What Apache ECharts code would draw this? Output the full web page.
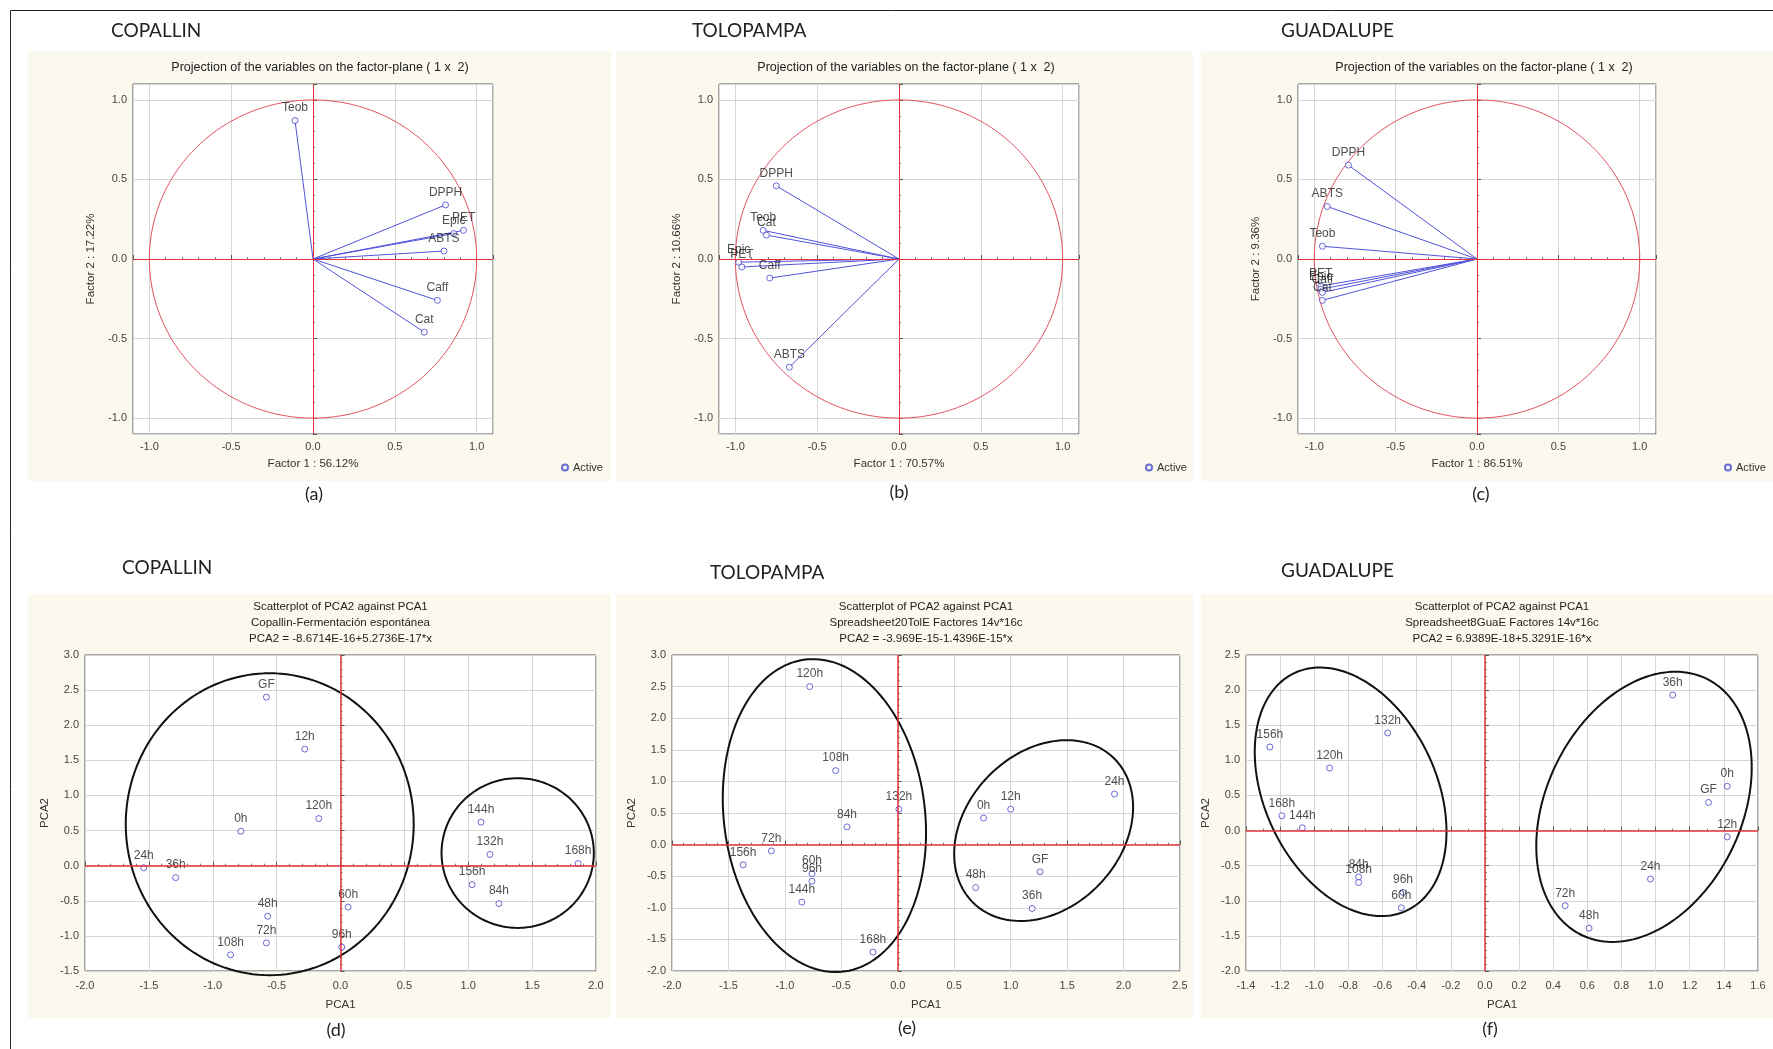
<!DOCTYPE html>
<html>
<head>
<meta charset="utf-8">
<script src="https://cdn.jsdelivr.net/npm/echarts/dist/echarts.min.js"></script>
<style>
html, body { margin: 0; padding: 0; background: #fff; }
#main { width: 1773px; height: 1049px; }
</style>
</head>
<body>
<div id="main"></div>
<script>
// ---------- factor loadings (top row) ----------
var varsA = ['Teob', 'DPPH', 'PET', 'Epic', 'ABTS', 'Caff', 'Cat'];
var fac1A = [-0.11, 0.81, 0.92, 0.86, 0.80, 0.76, 0.68];
var fac2A = [0.87, 0.34, 0.18, 0.16, 0.05, -0.26, -0.46];

var varsB = ['DPPH', 'Teob', 'Cat', 'Epic', 'PET', 'Caff', 'ABTS'];
var fac1B = [-0.75, -0.83, -0.81, -0.98, -0.96, -0.79, -0.67];
var fac2B = [0.46, 0.18, 0.15, -0.02, -0.05, -0.12, -0.68];

var varsC = ['DPPH', 'ABTS', 'Teob', 'PET', 'Epic', 'Caff', 'Cat'];
var fac1C = [-0.79, -0.92, -0.95, -0.96, -0.96, -0.95, -0.95];
var fac2C = [0.59, 0.33, 0.08, -0.17, -0.19, -0.21, -0.26];

var pctF1 = ['56.12%', '70.57%', '86.51%'];
var pctF2 = ['17.22%', '10.66%', '9.36%'];

// ---------- PCA scores (bottom row) ----------
var samples = ['0h', '12h', '24h', '36h', '48h', '60h', '72h', '84h', '96h', '108h', '120h', '132h', '144h', '156h', '168h', 'GF'];
var pca1D = [-0.78, -0.28, -1.54, -1.29, -0.57, 0.06, -0.58, 1.24, 0.01, -0.86, -0.17, 1.17, 1.10, 1.03, 1.86, -0.58];
var pca2D = [0.49, 1.66, -0.03, -0.17, -0.72, -0.59, -1.10, -0.54, -1.16, -1.27, 0.67, 0.16, 0.62, -0.27, 0.03, 2.40];
var pca1E = [0.76, 1.00, 1.92, 1.19, 0.69, -0.76, -1.12, -0.45, -0.76, -0.55, -0.78, 0.01, -0.85, -1.37, -0.22, 1.26];
var pca2E = [0.42, 0.56, 0.80, -1.01, -0.68, -0.46, -0.10, 0.28, -0.58, 1.17, 2.50, 0.56, -0.91, -0.32, -1.70, -0.43];
var pca1F = [1.42, 1.42, 0.97, 1.10, 0.61, -0.49, 0.47, -0.74, -0.48, -0.74, -0.91, -0.57, -1.07, -1.26, -1.19, 1.31];
var pca2F = [0.63, -0.09, -0.69, 1.93, -1.39, -1.10, -1.07, -0.66, -0.88, -0.74, 0.89, 1.39, 0.04, 1.19, 0.21, 0.40];

// group ellipses drawn by hand on the figure: centre, two semi-axis vectors
var ellD = [[[-0.554, 0.59], [1.127, 0], [0, 2.15]], [[1.387, 0.18], [0.596, 0], [0, 1.066]]];
var ellE = [[[-0.65, 0.459], [-0.149, 2.472], [0.888, 0.137]], [[1.292, 0.222], [0.513, 1.292], [-0.604, 0.614]]];
var ellF = [[[-0.787, 0.552], [-0.2935, 1.726], [-0.479, -0.393]], [[0.932, 0.338], [0.321, 1.870], [-0.5435, 0.452]]];

var subTitles = [
  ['Scatterplot of PCA2 against PCA1', 'Copallin-Fermentación espontánea', 'PCA2 = -8.6714E-16+5.2736E-17*x'],
  ['Scatterplot of PCA2 against PCA1', 'Spreadsheet20TolE Factores 14v*16c', 'PCA2 = -3.969E-15-1.4396E-15*x'],
  ['Scatterplot of PCA2 against PCA1', 'Spreadsheet8GuaE Factores 14v*16c', 'PCA2 = 6.9389E-18+5.3291E-16*x']
];

var FONT = '"Liberation Sans", Arial, sans-serif';
var BLUE = '#5252dc';
var RED = '#e2303c';

function circle() {
  var pts = [];
  for (var k = 0; k <= 240; k++) {
    var t = k / 240 * 2 * Math.PI;
    pts.push([Math.cos(t), Math.sin(t)]);
  }
  return pts;
}
function ellipse(e) {
  var pts = [];
  for (var k = 0; k <= 160; k++) {
    var t = k / 160 * 2 * Math.PI;
    pts.push([e[0][0] + e[1][0] * Math.cos(t) + e[2][0] * Math.sin(t),
              e[0][1] + e[1][1] * Math.cos(t) + e[2][1] * Math.sin(t)]);
  }
  return pts;
}

var grids = [
  { left: 133, top: 84, width: 360, height: 350 },
  { left: 719, top: 84, width: 360, height: 350 },
  { left: 1298, top: 84, width: 358, height: 350 },
  { left: 85, top: 655, width: 511, height: 316 },
  { left: 672, top: 655, width: 508, height: 316 },
  { left: 1246, top: 655, width: 512, height: 316 }
];
grids.forEach(function (g) {
  g.show = true; g.backgroundColor = '#fff'; g.borderColor = '#555'; g.borderWidth = 1;
});

function axis(i, dim, o) {
  var a = {
    type: 'value', gridIndex: i, min: o.min, max: o.max,
    name: o.name, nameLocation: 'middle', nameGap: o.nameGap,
    nameRotate: dim === 'y' ? 90 : 0,
    nameTextStyle: { fontFamily: FONT, fontSize: 11.5, color: '#333' },
    axisLine: { show: false },
    axisTick: { show: true, inside: true, length: 4, lineStyle: { color: '#555' } },
    minorTick: { show: true, splitNumber: o.minor || 5, length: 2, lineStyle: { color: '#777' } },
    splitLine: { show: true, lineStyle: { color: '#d6d6d6', width: 1 } },
    axisLabel: {
      fontFamily: FONT, fontSize: 11, color: '#444', margin: o.margin,
      showMinLabel: o.edgeLabels, showMaxLabel: o.edgeLabels,
      formatter: function (v) { return v.toFixed(1); }
    }
  };
  if (o.interval) a.interval = o.interval;
  return a;
}

var xAxes = [], yAxes = [], series = [];
var loadSets = [[varsA, fac1A, fac2A], [varsB, fac1B, fac2B], [varsC, fac1C, fac2C]];
loadSets.forEach(function (s, i) {
  xAxes.push(axis(i, 'x', { min: -1.1, max: 1.1, name: 'Factor 1 : ' + pctF1[i], nameGap: 24, margin: 7, edgeLabels: false }));
  yAxes.push(axis(i, 'y', { min: -1.1, max: 1.1, name: 'Factor 2 : ' + pctF2[i], nameGap: 36, margin: 6, edgeLabels: false }));
  series.push({
    type: 'line', xAxisIndex: i, yAxisIndex: i, data: circle(), showSymbol: false, silent: true,
    lineStyle: { color: '#e4505e', width: 1 }, z: 2,
    markLine: {
      silent: true, symbol: 'none', label: { show: false },
      lineStyle: { color: RED, type: 'solid', width: 1 },
      data: [{ xAxis: 0 }, { yAxis: 0 }]
    }
  });
  series.push({
    type: 'lines', coordinateSystem: 'cartesian2d', xAxisIndex: i, yAxisIndex: i, silent: true, z: 3,
    lineStyle: { color: BLUE, width: 1, opacity: 1 },
    data: s[0].map(function (n, k) { return { coords: [[0, 0], [s[1][k], s[2][k]]] }; })
  });
  series.push({
    type: 'scatter', name: 'Active', xAxisIndex: i, yAxisIndex: i, z: 4,
    symbol: 'circle', symbolSize: 6,
    itemStyle: { color: '#fff', borderColor: '#4646cc', borderWidth: 1 },
    label: { show: true, position: 'top', distance: 3, formatter: '{b}', fontFamily: FONT, fontSize: 12, color: '#222' },
    data: s[0].map(function (n, k) { return { name: n, value: [s[1][k], s[2][k]] }; })
  });
});

var scoreSets = [
  { x: pca1D, y: pca2D, ell: ellD, xr: [-2, 2], yr: [-1.5, 3], xi: 0.5 },
  { x: pca1E, y: pca2E, ell: ellE, xr: [-2, 2.5], yr: [-2, 3], xi: 0.5 },
  { x: pca1F, y: pca2F, ell: ellF, xr: [-1.4, 1.6], yr: [-2, 2.5], xi: 0.2 }
];
scoreSets.forEach(function (s, j) {
  var i = j + 3;
  xAxes.push(axis(i, 'x', { min: s.xr[0], max: s.xr[1], interval: s.xi, minor: s.xi === 0.2 ? 2 : 5, name: 'PCA1', nameGap: 28, margin: 9, edgeLabels: true }));
  yAxes.push(axis(i, 'y', { min: s.yr[0], max: s.yr[1], interval: 0.5, name: 'PCA2', nameGap: 34, margin: 6, edgeLabels: true }));
  s.ell.forEach(function (e, k) {
    var ser = {
      type: 'line', xAxisIndex: i, yAxisIndex: i, data: ellipse(e), showSymbol: false, silent: true,
      clip: false, lineStyle: { color: '#111', width: 2 }, z: 3
    };
    if (k === 0) {
      ser.markLine = {
        silent: true, symbol: 'none', label: { show: false },
        lineStyle: { color: RED, type: 'solid', width: 1.5 },
        data: [{ xAxis: 0 }, { yAxis: 0 }]
      };
    }
    series.push(ser);
  });
  series.push({
    type: 'scatter', xAxisIndex: i, yAxisIndex: i, z: 4,
    symbol: 'circle', symbolSize: 6,
    itemStyle: { color: '#fff', borderColor: '#4646cc', borderWidth: 1 },
    label: { show: true, position: 'top', distance: 3, formatter: '{b}', fontFamily: FONT, fontSize: 12, color: '#222' },
    data: samples.map(function (n, k) { return { name: n, value: [s.x[k], s.y[k]] }; })
  });
});

// ---------- free text & panel backgrounds ----------
var graphic = [];
[[28, 51, 583, 430], [616, 51, 577, 430], [1201, 51, 572, 430],
 [28, 594, 583, 424], [616, 594, 577, 424], [1201, 594, 572, 424]].forEach(function (r) {
  graphic.push({ type: 'rect', z: -10, shape: { x: r[0], y: r[1], width: r[2], height: r[3] }, style: { fill: '#fbf8ee' } });
});
graphic.push({ type: 'polyline', z: 10, shape: { points: [[10.5, 1049], [10.5, 10.5], [1773, 10.5]] }, style: { stroke: '#222', lineWidth: 1, fill: null } });

function txt(x, y, s, size, fam, align, color) {
  graphic.push({
    type: 'text', z: 10, x: x, y: y,
    style: { text: s, font: size + 'px ' + fam, fill: color || '#222', textAlign: align || 'left', textVerticalAlign: 'middle', align: align || 'left', verticalAlign: 'middle' }
  });
}
var HEAD = 'Lato, "Open Sans", sans-serif';
txt(111, 31, 'COPALLIN', 19, HEAD);
txt(692, 31, 'TOLOPAMPA', 19, HEAD);
txt(1281, 31, 'GUADALUPE', 19, HEAD);
txt(122, 568, 'COPALLIN', 19, HEAD);
txt(710, 573, 'TOLOPAMPA', 19, HEAD);
txt(1281, 571, 'GUADALUPE', 19, HEAD);

txt(314, 494, '(a)', 18, HEAD, 'center');
txt(899, 492, '(b)', 18, HEAD, 'center');
txt(1481, 494, '(c)', 18, HEAD, 'center');
txt(336, 1030, '(d)', 18, HEAD, 'center');
txt(907, 1028, '(e)', 18, HEAD, 'center');
txt(1490, 1029, '(f)', 18, HEAD, 'center');

[0, 1, 2].forEach(function (i) {
  var g = grids[i];
  txt(g.left + g.width / 2 + 7, 68, 'Projection of the variables on the factor-plane ( 1 x  2)', 12.5, FONT, 'center');
});
[3, 4, 5].forEach(function (i) {
  var g = grids[i];
  subTitles[i - 3].forEach(function (line, k) {
    txt(g.left + g.width / 2, 607 + k * 16, line, 11.5, FONT, 'center');
  });
});

var legends = [556, 1140, 1719].map(function (x) {
  return {
    data: ['Active'], left: x, top: 457, icon: 'circle', itemWidth: 6, itemHeight: 6, itemGap: 6,
    textStyle: { fontFamily: FONT, fontSize: 11, color: '#333' }, selectedMode: false
  };
});

var chart = echarts.init(document.getElementById('main'));
chart.setOption({
  animation: false,
  backgroundColor: '#fff',
  grid: grids,
  xAxis: xAxes,
  yAxis: yAxes,
  legend: legends,
  graphic: graphic,
  series: series
});
</script>
</body>
</html>
